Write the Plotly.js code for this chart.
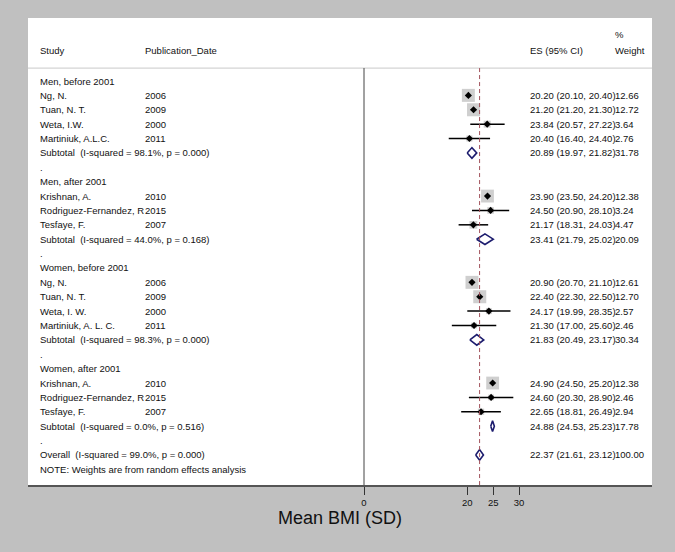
<!DOCTYPE html>
<html>
<head>
<meta charset="utf-8">
<script src="https://cdn.plot.ly/plotly-3.0.1.min.js"></script>
<style>
  html, body { margin: 0; padding: 0; background: #c0c0c0; }
  #forest { width: 675px; height: 552px; }
</style>
</head>
<body>
<div id="forest"></div>
<script>
// one entry per row of the forest plot, top to bottom
const studies = ['Men, before 2001', 'Ng, N.', 'Tuan, N. T.', 'Weta, I.W.', 'Martiniuk, A.L.C.',
  'Subtotal\u00a0 (I-squared = 98.1%, p = 0.000)', '.',
  'Men, after 2001', 'Krishnan, A.', 'Rodriguez-Fernandez, R', 'Tesfaye, F.',
  'Subtotal\u00a0 (I-squared = 44.0%, p = 0.168)', '.',
  'Women, before 2001', 'Ng, N.', 'Tuan, N. T.', 'Weta, I. W.', 'Martiniuk, A. L. C.',
  'Subtotal\u00a0 (I-squared = 98.3%, p = 0.000)', '.',
  'Women, after 2001', 'Krishnan, A.', 'Rodriguez-Fernandez, R', 'Tesfaye, F.',
  'Subtotal\u00a0 (I-squared = 0.0%, p = 0.516)', '.',
  'Overall\u00a0 (I-squared = 99.0%, p = 0.000)', 'NOTE: Weights are from random effects analysis']
const pubYears = ['', '2006', '2009', '2000', '2011', '', '',
  '', '2010', '2015', '2007', '', '',
  '', '2006', '2009', '2000', '2011', '', '',
  '', '2010', '2015', '2007', '', '',
  '', '']
const kind = ['g', 's', 's', 's', 's', 'd', '',
  'g', 's', 's', 's', 'd', '',
  'g', 's', 's', 's', 's', 'd', '',
  'g', 's', 's', 's', 'd', '',
  'd', '']
const es = [null, 20.20, 21.20, 23.84, 20.40, 20.89, null,
  null, 23.90, 24.50, 21.17, 23.41, null,
  null, 20.90, 22.40, 24.17, 21.30, 21.83, null,
  null, 24.90, 24.60, 22.65, 24.88, null,
  22.37, null]
const lo = [null, 20.10, 21.20, 20.57, 16.40, 19.97, null,
  null, 23.50, 20.90, 18.31, 21.79, null,
  null, 20.70, 22.30, 19.99, 17.00, 20.49, null,
  null, 24.50, 20.30, 18.81, 24.53, null,
  21.61, null]
const hi = [null, 20.40, 21.30, 27.22, 24.40, 21.82, null,
  null, 24.20, 28.10, 24.03, 25.02, null,
  null, 21.10, 22.50, 28.35, 25.60, 23.17, null,
  null, 25.20, 28.90, 26.49, 25.23, null,
  23.12, null]
const weight = [null, 12.66, 12.72, 3.64, 2.76, 31.78, null,
  null, 12.38, 3.24, 4.47, 20.09, null,
  null, 12.61, 12.70, 2.57, 2.46, 30.34, null,
  null, 12.38, 2.46, 2.94, 17.78, null,
  100.00, null]
const xTicks = [0, 20, 25, 30]

const rows = studies.map((s, i) => i + 1)
const overall = es[26]

// individual studies
const sx = [], sy = [], sSize = [], ePlus = [], eMinus = []
kind.forEach((k, i) => {
  if (k !== 's') return
  sx.push(es[i]); sy.push(rows[i])
  sSize.push(3.65 * Math.sqrt(weight[i]))
  ePlus.push(hi[i] - es[i]); eMinus.push(es[i] - lo[i])
})

// pooled diamonds
const dx = [], dy = []
kind.forEach((k, i) => {
  if (k !== 'd') return
  const h = 0.37
  dx.push(lo[i], es[i], hi[i], es[i], lo[i], null)
  dy.push(rows[i], rows[i] - h, rows[i], rows[i] + h, rows[i], null)
})

var boxes = {
  x: sx, y: sy, type: 'scatter', mode: 'markers', hoverinfo: 'skip',
  marker: { symbol: 'square', size: sSize, color: '#bababa', line: { width: 0 } }
}

var points = {
  x: sx, y: sy, type: 'scatter', mode: 'markers', hoverinfo: 'skip',
  marker: { symbol: 'diamond', size: 5.5, color: '#000' },
  error_x: { type: 'data', symmetric: false, array: ePlus, arrayminus: eMinus,
    width: 0, thickness: 1.5, color: '#000' }
}

var diamonds = {
  x: dx, y: dy, type: 'scatter', mode: 'lines', hoverinfo: 'skip',
  line: { color: '#1c1c6e', width: 1.6 }
}

const font = { family: 'Liberation Sans, Arial, sans-serif', size: 9.5, color: '#111' }
const colStudy = 0.016, colYear = 0.184, colEs = 0.801, colW = 0.9375

function note (x, y, text) {
  return { xref: 'paper', yref: 'y', x: x, y: y, text: text, showarrow: false,
    xanchor: 'left', yanchor: 'middle', font: font }
}

var notes = [
  note(colStudy, -1.12, 'Study'),
  note(colYear, -1.12, 'Publication_Date'),
  note(colEs, -1.12, 'ES (95% CI)'),
  note(colW, -2.2, '%'),
  note(colW, -1.12, 'Weight')
]
studies.forEach((s, i) => {
  notes.push(note(colStudy, rows[i], s))
  if (pubYears[i]) notes.push(note(colYear, rows[i], pubYears[i]))
  if (es[i] !== null) {
    notes.push(note(colEs, rows[i],
      es[i].toFixed(2) + ' (' + lo[i].toFixed(2) + ', ' + hi[i].toFixed(2) + ')'))
    notes.push(note(colW, rows[i], weight[i].toFixed(2)))
  }
})

const yTop = -3.38, yBottom = 29.09

var layout = {
  width: 675,
  height: 552,
  margin: { l: 28, r: 23, t: 18, b: 67 },
  paper_bgcolor: '#c0c0c0',
  plot_bgcolor: '#ffffff',
  showlegend: false,
  font: font,
  xaxis: {
    range: [-65.03, 55.74],
    tickvals: xTicks,
    ticks: 'outside',
    ticklen: 8,
    tickwidth: 1,
    tickcolor: '#333',
    tickfont: { family: font.family, size: 9.5, color: '#111' },
    showgrid: false,
    zeroline: false,
    showline: true,
    linecolor: '#555',
    linewidth: 1.5,
    fixedrange: true,
    title: { text: 'Mean BMI (SD)', font: { family: font.family, size: 18, color: '#111' }, standoff: 4 }
  },
  yaxis: {
    range: [yBottom, yTop],
    visible: false,
    fixedrange: true
  },
  shapes: [
    { type: 'line', xref: 'paper', yref: 'y', x0: 0, x1: 1, y0: 0.1, y1: 0.1,
      line: { color: '#d4d4d4', width: 1.2 } },
    { type: 'line', xref: 'x', yref: 'y', x0: 0, x1: 0, y0: 0.1, y1: yBottom,
      line: { color: '#444', width: 1 } },
    { type: 'line', xref: 'x', yref: 'y', x0: overall, x1: overall, y0: 0.1, y1: yBottom,
      line: { color: '#a2525c', width: 1, dash: '4px,3px' } }
  ],
  annotations: notes
}

Plotly.newPlot('forest', [boxes, points, diamonds], layout, { displayModeBar: false, staticPlot: true })
</script>
</body>
</html>
